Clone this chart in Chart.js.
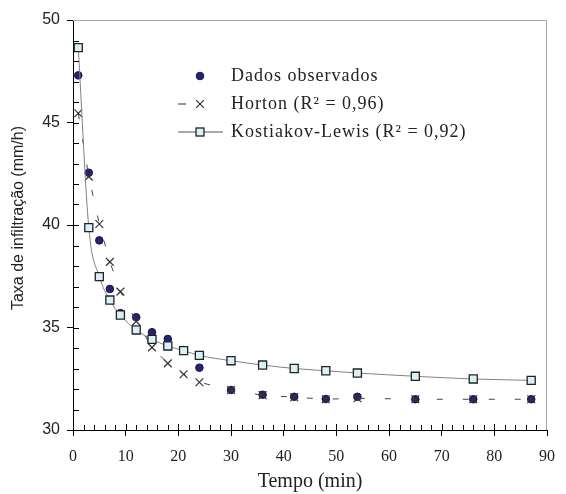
<!DOCTYPE html>
<html>
<head>
<meta charset="utf-8">
<script src="https://cdn.jsdelivr.net/npm/chart.js@4/dist/chart.umd.min.js"></script>
<style>
  html, body { margin: 0; padding: 0; background: #fff; }
  canvas { display: block; }
</style>
</head>
<body>
<canvas id="grafico" width="566" height="494"></canvas>
<script>
'use strict';

// dados
const tempo = [1, 3, 5, 7, 9, 12, 15, 18, 21, 24, 30, 36, 42, 48, 54, 65, 76, 87];
const observado = [47.3, 42.55, 39.25, 36.88, 35.7, 35.5, 34.77, 34.44, 33.9, 33.04, 31.95, 31.72, 31.62, 31.51, 31.62, 31.5, 31.5, 31.5];
const horton = [45.45, 42.36, 40.05, 38.2, 36.75, 35.3, 34.03, 33.25, 32.72, 32.33, 31.95, 31.7, 31.6, 31.5, 31.55, 31.5, 31.5, 31.5];
const kostiakov = [48.65, 39.87, 37.48, 36.34, 35.61, 34.88, 34.42, 34.1, 33.87, 33.64, 33.38, 33.17, 33.0, 32.89, 32.78, 32.62, 32.49, 32.42];

const xTicks = [0, 10, 20, 30, 40, 50, 60, 70, 80, 90];
const yTicks = [30, 35, 40, 45, 50];
const legendas = ['Dados observados', 'Horton (R\u00B2 = 0,96)', 'Kostiakov-Lewis (R\u00B2 = 0,92)'];
const tituloX = 'Tempo (min)';
const tituloY = 'Taxa de infiltração (mm/h)';

const SERIF = '"Liberation Serif", "Times New Roman", serif';
const SANS = '"Liberation Sans", Arial, sans-serif';
const TEXTO = '#222';

const pares = function (ys) {
  return tempo.map((t, i) => ({ x: t, y: ys[i] }));
};

/**
 * Moldura cinza, marcas menores, título do eixo y e legenda
 */
const extras = {
  id: 'extras',
  afterDraw(chart) {
    const ctx = chart.ctx;
    const area = chart.chartArea;
    const sx = chart.scales.x;
    const sy = chart.scales.y;

    ctx.save();
    // moldura de cima e da direita
    ctx.strokeStyle = '#a6a6a6';
    ctx.lineWidth = 1;
    ctx.beginPath();
    ctx.moveTo(area.left, area.top + 0.5);
    ctx.lineTo(area.right - 0.5, area.top + 0.5);
    ctx.lineTo(area.right - 0.5, area.bottom);
    ctx.stroke();

    // marcas para dentro
    ctx.strokeStyle = '#000';
    ctx.beginPath();
    for (let v = 31; v < 50; v++) {
      const py = Math.round(sy.getPixelForValue(v)) + 0.5;
      ctx.moveTo(area.left, py);
      ctx.lineTo(area.left + 6, py);
    }
    for (let v = 2; v < 90; v += 2) {
      const px = Math.round(sx.getPixelForValue(v)) + 0.5;
      ctx.moveTo(px, area.bottom);
      ctx.lineTo(px, area.bottom - (v % 10 === 0 ? 6 : 5));
    }
    ctx.stroke();

    // título do eixo y
    ctx.fillStyle = TEXTO;
    ctx.font = '16px ' + SANS;
    ctx.translate(18.5, 218);
    ctx.rotate(-Math.PI / 2);
    ctx.textAlign = 'center';
    ctx.textBaseline = 'middle';
    ctx.fillText(tituloY, 0, 0);
    ctx.restore();

    // legenda
    ctx.save();
    const mx = 200;
    const tx = 231;
    const linhas = [76, 104, 132];
    ctx.font = '18px ' + SERIF;
    ctx.letterSpacing = '1px';
    ctx.textBaseline = 'middle';
    ctx.fillStyle = TEXTO;
    legendas.forEach((txt, i) => ctx.fillText(txt, tx, linhas[i]));
    ctx.letterSpacing = '0px';

    // circulo
    ctx.fillStyle = '#232372';
    ctx.strokeStyle = '#15154a';
    ctx.beginPath();
    ctx.arc(mx, linhas[0], 3.8, 0, Math.PI * 2);
    ctx.fill();
    ctx.stroke();

    // traço + x
    ctx.strokeStyle = '#333';
    ctx.lineWidth = 1.2;
    ctx.beginPath();
    ctx.moveTo(178, linhas[1]);
    ctx.lineTo(186, linhas[1]);
    const d = 3.9;
    ctx.moveTo(mx - d, linhas[1] - d);
    ctx.lineTo(mx + d, linhas[1] + d);
    ctx.moveTo(mx + d, linhas[1] - d);
    ctx.lineTo(mx - d, linhas[1] + d);
    ctx.stroke();

    // linha + quadrado
    ctx.strokeStyle = '#555';
    ctx.lineWidth = 1;
    ctx.beginPath();
    ctx.moveTo(178, linhas[2]);
    ctx.lineTo(223, linhas[2]);
    ctx.stroke();
    ctx.fillStyle = '#d8f1f6';
    ctx.strokeStyle = '#222';
    ctx.lineWidth = 1.3;
    ctx.fillRect(mx - 4, linhas[2] - 4, 8, 8);
    ctx.strokeRect(mx - 4, linhas[2] - 4, 8, 8);
    ctx.restore();
  }
};

const ctx = document.getElementById('grafico').getContext('2d');

const grafico = new Chart(ctx, {
  type: 'scatter',
  data: {
    datasets: [
      {
        label: legendas[0],
        data: pares(observado),
        showLine: false,
        pointStyle: 'circle',
        pointRadius: 3.8,
        pointBackgroundColor: '#232372',
        pointBorderColor: '#15154a',
        pointBorderWidth: 1,
        order: 3
      },
      {
        label: legendas[1],
        data: pares(horton),
        showLine: true,
        borderColor: '#444',
        borderWidth: 1,
        borderDash: [6, 20],
        pointStyle: 'crossRot',
        pointRadius: 5.5,
        pointBorderColor: '#333',
        pointBorderWidth: 1.2,
        order: 2
      },
      {
        label: legendas[2],
        data: pares(kostiakov),
        showLine: true,
        borderColor: '#808080',
        borderWidth: 1,
        cubicInterpolationMode: 'monotone',
        pointStyle: 'rect',
        pointRadius: 5.7,
        pointBackgroundColor: '#d8f1f6',
        pointBorderColor: '#222',
        pointBorderWidth: 1.3,
        order: 1
      }
    ]
  },
  options: {
    responsive: false,
    animation: false,
    devicePixelRatio: 1,
    layout: { padding: { top: 20, right: 9, left: 0, bottom: 0 } },
    plugins: {
      legend: { display: false },
      tooltip: { enabled: false }
    },
    scales: {
      x: {
        type: 'linear',
        min: 0,
        max: 90,
        afterBuildTicks: (s) => { s.ticks = xTicks.map(v => ({ value: v })); },
        afterFit: (s) => { s.height = 64; },
        grid: { drawOnChartArea: false, drawTicks: true, tickLength: 6, color: '#000' },
        border: { display: true, color: '#000', width: 1 },
        ticks: { color: TEXTO, padding: 11, font: { family: SERIF, size: 16 } },
        title: {
          display: true,
          text: tituloX,
          color: TEXTO,
          font: { family: SERIF, size: 20, lineHeight: 1 },
          padding: { top: 0, bottom: 2 }
        }
      },
      y: {
        type: 'linear',
        min: 30,
        max: 50,
        afterBuildTicks: (s) => { s.ticks = yTicks.map(v => ({ value: v })); },
        afterFit: (s) => { s.width = 73; },
        grid: { drawOnChartArea: false, drawTicks: true, tickLength: 6, color: '#000' },
        border: { display: true, color: '#000', width: 1 },
        ticks: { color: TEXTO, padding: 7, font: { family: SANS, size: 16 } },
        title: { display: false }
      }
    }
  },
  plugins: [extras]
});
</script>
</body>
</html>
